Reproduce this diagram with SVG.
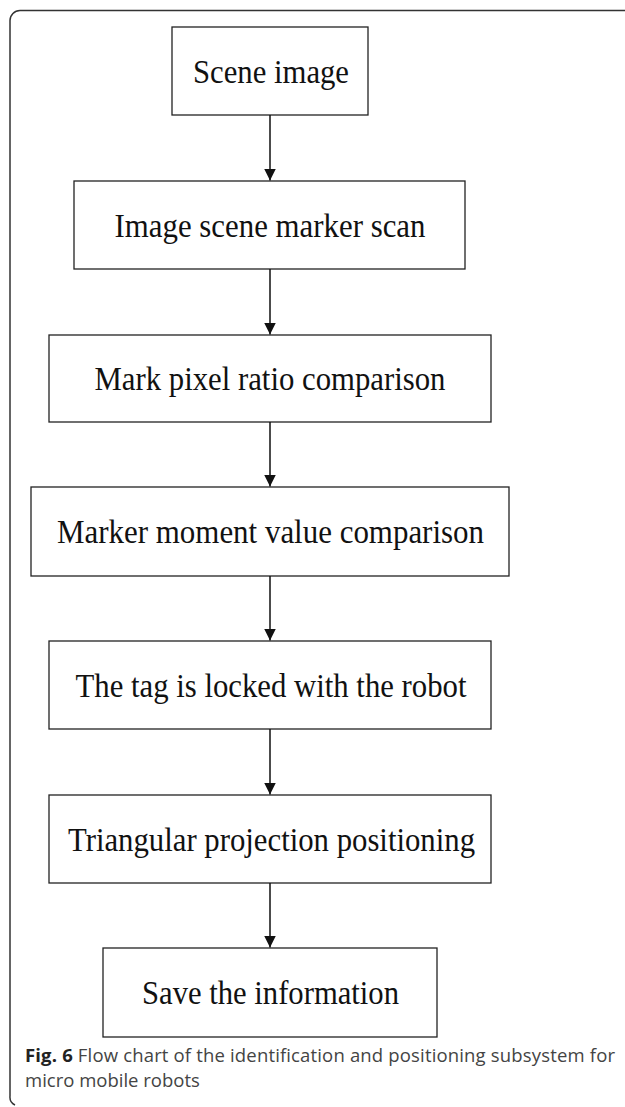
<svg xmlns="http://www.w3.org/2000/svg" width="625" height="1107" viewBox="0 0 625 1107">
<style>
.box{fill:#fff;stroke:#222;stroke-width:1.3}
.lbl{font-family:"Liberation Serif","Times New Roman",serif;font-size:34px;fill:#111;text-anchor:middle}
.conn line{stroke:#111;stroke-width:1.5}
.cap{font-family:"Open Sans","Noto Sans",sans-serif;font-size:18.5px;fill:#444}
</style>
<defs>
<marker id="ah" markerUnits="userSpaceOnUse" markerWidth="12" markerHeight="12" viewBox="0 0 12 12" refX="12" refY="6" orient="auto">
<path d="M0,0 L12,6 L0,12 Z" fill="#111"/>
</marker>
</defs>
<rect width="625" height="1107" fill="#fff"/>
<path d="M625,10.5 H20 A10,10 0 0 0 10,20.5 V1096 A9,9 0 0 0 15,1105" fill="none" stroke="#333" stroke-width="1.5"/>
<g id="n1"><rect class="box" x="172" y="27" width="196" height="88"/><text class="lbl" x="271" y="82.5" textLength="156" lengthAdjust="spacingAndGlyphs">Scene image</text></g>
<g id="n2"><rect class="box" x="74" y="181" width="391" height="88"/><text class="lbl" x="270" y="236.5" textLength="311" lengthAdjust="spacingAndGlyphs">Image scene marker scan</text></g>
<g id="n3"><rect class="box" x="49" y="335" width="442" height="87"/><text class="lbl" x="270" y="390" textLength="351" lengthAdjust="spacingAndGlyphs">Mark pixel ratio comparison</text></g>
<g id="n4"><rect class="box" x="31" y="487" width="478" height="89"/><text class="lbl" x="270.5" y="543" textLength="427" lengthAdjust="spacingAndGlyphs">Marker moment value comparison</text></g>
<g id="n5"><rect class="box" x="49" y="641" width="442" height="88"/><text class="lbl" x="271" y="696.5" textLength="391" lengthAdjust="spacingAndGlyphs">The tag is locked with the robot</text></g>
<g id="n6"><rect class="box" x="49" y="795" width="442" height="88"/><text class="lbl" x="271.5" y="850.5" textLength="407" lengthAdjust="spacingAndGlyphs">Triangular projection positioning</text></g>
<g id="n7"><rect class="box" x="103" y="948" width="334" height="89"/><text class="lbl" x="270.5" y="1004" textLength="257" lengthAdjust="spacingAndGlyphs">Save the information</text></g>
<g id="connectors" class="conn">
<line x1="270" y1="115" x2="270" y2="180.5" marker-end="url(#ah)"/>
<line x1="270" y1="269" x2="270" y2="334.5" marker-end="url(#ah)"/>
<line x1="270" y1="422" x2="270" y2="486.5" marker-end="url(#ah)"/>
<line x1="270" y1="576" x2="270" y2="640.5" marker-end="url(#ah)"/>
<line x1="270" y1="729" x2="270" y2="794.5" marker-end="url(#ah)"/>
<line x1="270" y1="883" x2="270" y2="947.5" marker-end="url(#ah)"/>
</g>
<text class="cap" x="25" y="1062" textLength="590" lengthAdjust="spacing"><tspan font-weight="bold" fill="#222">Fig. 6</tspan> Flow chart of the identification and positioning subsystem for</text>
<text class="cap" x="25" y="1087">micro mobile robots</text>
</svg>
